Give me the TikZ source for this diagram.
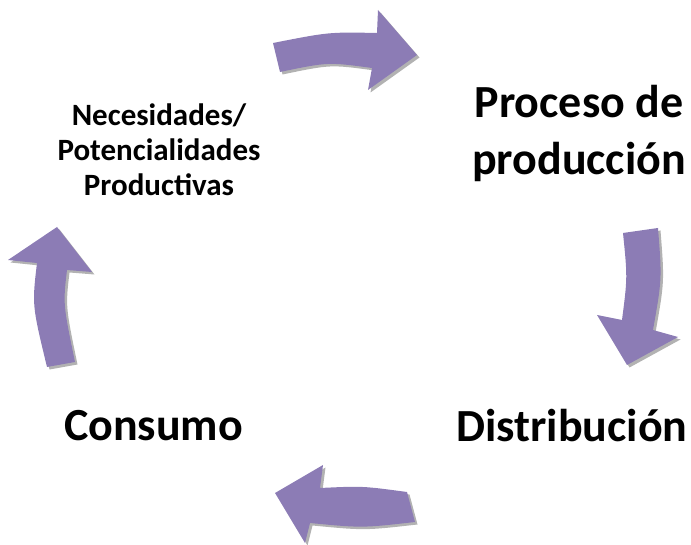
\documentclass[tikz,border=0pt]{standalone}
\usepackage{fontspec}
\setmainfont{Carlito}
\definecolor{arrowpurple}{RGB}{140,124,181}
\tikzset{
  arrowfill/.style={fill=arrowpurple},
  arrowshadow/.style={fill=black,opacity=0.3},
  biglabel/.style={font=\bfseries\fontsize{46}{57}\selectfont,inner sep=0pt,align=center},
  smalllabel/.style={font=\bfseries\fontsize{31}{35}\selectfont,inner sep=0pt,align=center}
}
\newcommand\purplearrow[1]{%
  \fill[arrowshadow,shift={(2.5,2.5)}] #1;
  \fill[arrowfill] #1;}
\begin{document}
\begin{tikzpicture}[x=1pt,y=-1pt]
\useasboundingbox (0,0) rectangle (691,545);
% top arrow
\purplearrow{(273,43) .. controls (329,32) .. (377,33) -- (378,10) -- (417,55) -- (368,90) -- (372,68) .. controls (328,62) .. (280,72) -- cycle}
% right arrow
\purplearrow{(623,233) -- (658,228) .. controls (662,279) .. (653,330) -- (678,337) -- (627,365) -- (597,315) -- (622,320) .. controls (627.5,277.5) .. (623,233) -- cycle}
% bottom arrow
\purplearrow{(407,492) .. controls (362.5,486) .. (320,488) -- (323,465) -- (275,493) -- (305,543) -- (310,523) .. controls (362,528) .. (415,522) -- cycle}
% left arrow
\purplearrow{(47,367) .. controls (32,305) .. (37,263) -- (8,260) -- (57,227) -- (92,272) -- (67,270) .. controls (63,304) .. (75,362) -- cycle}
% labels
\node[smalllabel] (nec) at (159,150) {Necesidades/\\Potencialidades\\Productivas};
\node[biglabel] (proc) at (579,133) {Proceso de\\producción};
\node[biglabel,anchor=base] (dist) at (572,441) {Distribución};
\node[biglabel,anchor=base] (cons) at (153.5,440) {Consumo};
\end{tikzpicture}
\end{document}
